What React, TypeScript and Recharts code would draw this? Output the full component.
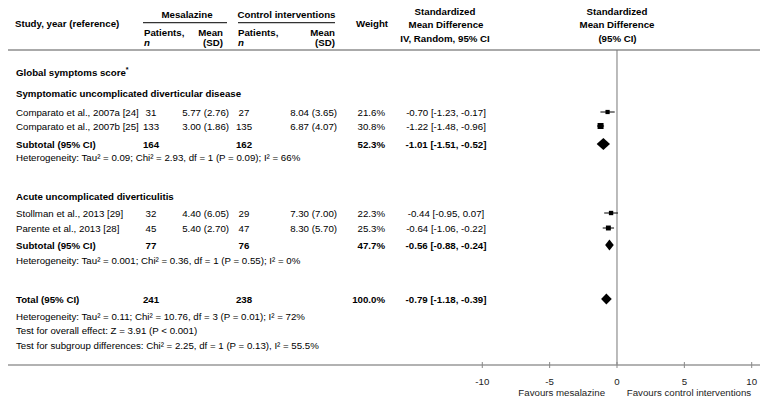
import React from 'react';
import {
  ComposedChart,
  Scatter,
  XAxis,
  YAxis,
  ErrorBar,
  ReferenceLine,
  ReferenceArea,
  Customized,
} from 'recharts';

// ---------------- DATA ----------------
const studyNames = [
  'Comparato et al., 2007a [24]',
  'Comparato et al., 2007b [25]',
  'Stollman et al., 2013 [29]',
  'Parente et al., 2013 [28]',
];
const mesN = [31, 133, 32, 45];
const mesMean = [5.77, 3.0, 4.4, 5.4];
const mesSD = [2.76, 1.86, 6.05, 2.7];
const ctrlN = [27, 135, 29, 47];
const ctrlMean = [8.04, 6.87, 7.3, 8.3];
const ctrlSD = [3.65, 4.07, 7.0, 5.7];
const studyWeight = [21.6, 30.8, 22.3, 25.3];
const studySMD = [-0.7, -1.22, -0.44, -0.64];
const studyLow = [-1.23, -1.48, -0.95, -1.06];
const studyHigh = [-0.17, -0.96, 0.07, -0.22];

const groupNames = ['Symptomatic uncomplicated diverticular disease', 'Acute uncomplicated diverticulitis'];
const groupMesN = [164, 77];
const groupCtrlN = [162, 76];
const groupWeight = [52.3, 47.7];
const groupSMD = [-1.01, -0.56];
const groupLow = [-1.51, -0.88];
const groupHigh = [-0.52, -0.24];
const groupHet = [
  'Heterogeneity: Tau² = 0.09; Chi² = 2.93, df = 1 (P = 0.09); I² = 66%',
  'Heterogeneity: Tau² = 0.001; Chi² = 0.36, df = 1 (P = 0.55); I² = 0%',
];

const totalMesN = 241;
const totalCtrlN = 238;
const totalWeight = 100.0;
const totalSMD = -0.79;
const totalLow = -1.18;
const totalHigh = -0.39;
const totalNotes = [
  'Heterogeneity: Tau² = 0.11; Chi² = 10.76, df = 3 (P = 0.01); I² = 72%',
  'Test for overall effect: Z = 3.91 (P < 0.001)',
  'Test for subgroup differences: Chi² = 2.25, df = 1 (P = 0.13), I² = 55.5%',
];

const outcomeTitle = 'Global symptoms score';
const axisTicks = [-10, -5, 0, 5, 10];
const favoursLeft = 'Favours mesalazine';
const favoursRight = 'Favours control interventions';

// ---------------- LAYOUT ----------------
const W = 772;
const H = 405;
const FONT = '"Liberation Sans", Arial, Helvetica, sans-serif';
const FS = 9.7;
const BASE = 3.5;
// vertical slots (y-axis units) of each table line
const SLOT = {
  title: 22,
  group: [43, 146],
  study: [62, 76, 163, 178],
  sub: [94, 195],
  het: [107.5, 210.5],
  total: 249,
  notes: [266, 280.5, 295],
};
const COL = { study: 16, mesN: 151, mesMean: 229, ctrlN: 244, ctrlMean: 337, weight: 385, effect: 446 };
const DIAMOND_HALF = [6, 5.5];
const TOTAL_HALF = 5.5;

const f2 = (v: number) => v.toFixed(2);
const ci = (m: number, l: number, h: number) => `${f2(m)} [${f2(l)}, ${f2(h)}]`;

type Row = { x: number; y: number; kind: string; i?: number; text?: string };

const tableRows: Row[] = [
  { x: 0, y: SLOT.title, kind: 'title' },
  ...groupNames.map((g, i) => ({ x: 0, y: SLOT.group[i], kind: 'group', i })),
  ...studyNames.map((s, i) => ({ x: 0, y: SLOT.study[i], kind: 'study', i })),
  ...groupNames.map((g, i) => ({ x: 0, y: SLOT.sub[i], kind: 'sub', i })),
  ...groupHet.map((h, i) => ({ x: 0, y: SLOT.het[i], kind: 'note', text: h })),
  { x: 0, y: SLOT.total, kind: 'total' },
  ...totalNotes.map((t, i) => ({ x: 0, y: SLOT.notes[i], kind: 'note', text: t })),
];

const studyPoints = studyNames.map((s, i) => ({
  x: studySMD[i],
  y: SLOT.study[i],
  w: studyWeight[i],
  err: [studySMD[i] - studyLow[i], studyHigh[i] - studySMD[i]],
}));

const T = (
  x: number,
  y: number,
  s: string | number,
  anchor: 'start' | 'middle' | 'end' = 'start',
  bold = false,
  key?: string
) => (
  <text
    key={key}
    x={x}
    y={y}
    textAnchor={anchor}
    fontFamily={FONT}
    fontSize={FS}
    fontWeight={bold ? 'bold' : 'normal'}
    fill="#000"
  >
    {s}
  </text>
);

const RowShape = (props: any) => {
  const { cy, payload } = props;
  const r = payload as Row;
  const y = cy + BASE;
  const i = r.i ?? 0;
  switch (r.kind) {
    case 'title':
      return (
        <g>
          <text x={COL.study} y={y} fontFamily={FONT} fontSize={FS} fontWeight="bold" fill="#000">
            {outcomeTitle}
            <tspan fontSize={7} dy={-3.5}>*</tspan>
          </text>
        </g>
      );
    case 'group':
      return <g>{T(COL.study, y, groupNames[i], 'start', true)}</g>;
    case 'study':
      return (
        <g>
          {T(COL.study, y, studyNames[i], 'start', false, 'a')}
          {T(COL.mesN, y, mesN[i], 'middle', false, 'b')}
          {T(COL.mesMean, y, `${f2(mesMean[i])} (${f2(mesSD[i])})`, 'end', false, 'c')}
          {T(COL.ctrlN, y, ctrlN[i], 'middle', false, 'd')}
          {T(COL.ctrlMean, y, `${f2(ctrlMean[i])} (${f2(ctrlSD[i])})`, 'end', false, 'e')}
          {T(COL.weight, y, `${studyWeight[i].toFixed(1)}%`, 'end', false, 'f')}
          {T(COL.effect, y, ci(studySMD[i], studyLow[i], studyHigh[i]), 'middle', false, 'g')}
        </g>
      );
    case 'sub':
      return (
        <g>
          {T(COL.study, y, 'Subtotal (95% CI)', 'start', true, 'a')}
          {T(COL.mesN, y, groupMesN[i], 'middle', true, 'b')}
          {T(COL.ctrlN, y, groupCtrlN[i], 'middle', true, 'd')}
          {T(COL.weight, y, `${groupWeight[i].toFixed(1)}%`, 'end', true, 'f')}
          {T(COL.effect, y, ci(groupSMD[i], groupLow[i], groupHigh[i]), 'middle', true, 'g')}
        </g>
      );
    case 'total':
      return (
        <g>
          {T(COL.study, y, 'Total (95% CI)', 'start', true, 'a')}
          {T(COL.mesN, y, totalMesN, 'middle', true, 'b')}
          {T(COL.ctrlN, y, totalCtrlN, 'middle', true, 'd')}
          {T(COL.weight, y, `${totalWeight.toFixed(1)}%`, 'end', true, 'f')}
          {T(COL.effect, y, ci(totalSMD, totalLow, totalHigh), 'middle', true, 'g')}
        </g>
      );
    case 'note':
      return <g>{T(COL.study, y, r.text || '')}</g>;
    default:
      return <g />;
  }
};

const SquareShape = (props: any) => {
  const { cx, cy, payload } = props;
  const s = payload.w * 0.195;
  return <rect x={cx - s / 2} y={cy - s / 2} width={s} height={s} fill="#000" />;
};

// diamonds are drawn through ReferenceArea spanning low..high; the peak sits at the estimate
const makeDiamond = (est: number, lo: number, hi: number) => (p: any) => {
  const { x, y, width, height } = p;
  const frac = (est - lo) / (hi - lo);
  const px = x + width * frac;
  const cym = y + height / 2;
  return <polygon points={`${x},${cym} ${px},${y} ${x + width},${cym} ${px},${y + height}`} fill="#000" />;
};

const AxisTick = (props: any) => {
  const { x, y, payload } = props;
  return (
    <g>
      <line x1={x} x2={x} y1={y - 3} y2={y + 3} stroke="#888" strokeWidth={1} />
      <text x={x} y={y + 20} textAnchor="middle" fontFamily={FONT} fontSize={FS} fill="#222">
        {payload.value}
      </text>
    </g>
  );
};

const Headers = () => {
  const hb = (x: number, y: number, s: string, anchor: 'start' | 'middle' | 'end' = 'start', italic = false) => (
    <text
      x={x}
      y={y}
      textAnchor={anchor}
      fontFamily={FONT}
      fontSize={FS}
      fontWeight="bold"
      fontStyle={italic ? 'italic' : 'normal'}
      fill="#000"
    >
      {s}
    </text>
  );
  return (
    <g>
      {hb(15, 27.4, 'Study, year (reference)')}
      {hb(187, 18.4, 'Mesalazine', 'middle')}
      <line x1={143} x2={227} y1={22.7} y2={22.7} stroke="#333" strokeWidth={1.3} />
      {hb(286.5, 18.4, 'Control interventions', 'middle')}
      <line x1={238} x2={335} y1={22.7} y2={22.7} stroke="#333" strokeWidth={1.3} />
      {hb(144, 36, 'Patients,')}
      {hb(144, 46.3, 'n', 'start', true)}
      {hb(223, 36, 'Mean', 'end')}
      {hb(223, 46.3, '(SD)', 'end')}
      {hb(238, 36, 'Patients,')}
      {hb(238, 46.3, 'n', 'start', true)}
      {hb(335, 36, 'Mean', 'end')}
      {hb(335, 46.3, '(SD)', 'end')}
      {hb(372, 27.4, 'Weight', 'middle')}
      {hb(445, 15, 'Standardized', 'middle')}
      {hb(446, 27.7, 'Mean Difference', 'middle')}
      {hb(445, 41.7, 'IV, Random, 95% CI', 'middle')}
      {hb(617, 15, 'Standardized', 'middle')}
      {hb(617, 27.7, 'Mean Difference', 'middle')}
      {hb(617.5, 41.7, '(95% CI)', 'middle')}
      <text x={561.7} y={396.4} textAnchor="middle" fontFamily={FONT} fontSize={FS} fill="#222">
        {favoursLeft}
      </text>
      <text x={689} y={396.4} textAnchor="middle" fontFamily={FONT} fontSize={FS} fill="#222">
        {favoursRight}
      </text>
    </g>
  );
};

export default function App() {
  return (
    <div style={{ position: 'absolute', left: 0, top: 0, width: W, height: H, background: '#fff' }}>
      <ComposedChart width={W} height={H} margin={{ top: 50, right: 12, bottom: 0, left: 8 }}>
        <XAxis
          type="number"
          dataKey="x"
          domain={[-45.21, 10.616]}
          allowDataOverflow
          ticks={axisTicks}
          axisLine={{ stroke: '#999', strokeWidth: 1.5 }}
          tickLine={false}
          tickSize={0}
          tickMargin={0}
          tick={AxisTick}
          height={40}
          interval={0}
        />
        <YAxis type="number" dataKey="y" domain={[0, 315]} reversed hide allowDataOverflow />
        <ReferenceLine y={0} stroke="#aaa" strokeWidth={2} />
        <ReferenceLine x={0} stroke="#777" strokeWidth={1} />
        <Scatter data={tableRows} shape={RowShape} isAnimationActive={false} />
        <Scatter data={studyPoints} shape={SquareShape} isAnimationActive={false}>
          <ErrorBar dataKey="err" direction="x" width={0} stroke="#000" strokeWidth={1} />
        </Scatter>
        {groupNames.map((g, i) => (
          <ReferenceArea
            key={g}
            x1={groupLow[i]}
            x2={groupHigh[i]}
            y1={SLOT.sub[i] - DIAMOND_HALF[i]}
            y2={SLOT.sub[i] + DIAMOND_HALF[i]}
            shape={makeDiamond(groupSMD[i], groupLow[i], groupHigh[i])}
            ifOverflow="visible"
          />
        ))}
        <ReferenceArea
          x1={totalLow}
          x2={totalHigh}
          y1={SLOT.total - TOTAL_HALF}
          y2={SLOT.total + TOTAL_HALF}
          shape={makeDiamond(totalSMD, totalLow, totalHigh)}
          ifOverflow="visible"
        />
        <Customized component={Headers} />
      </ComposedChart>
    </div>
  );
}
